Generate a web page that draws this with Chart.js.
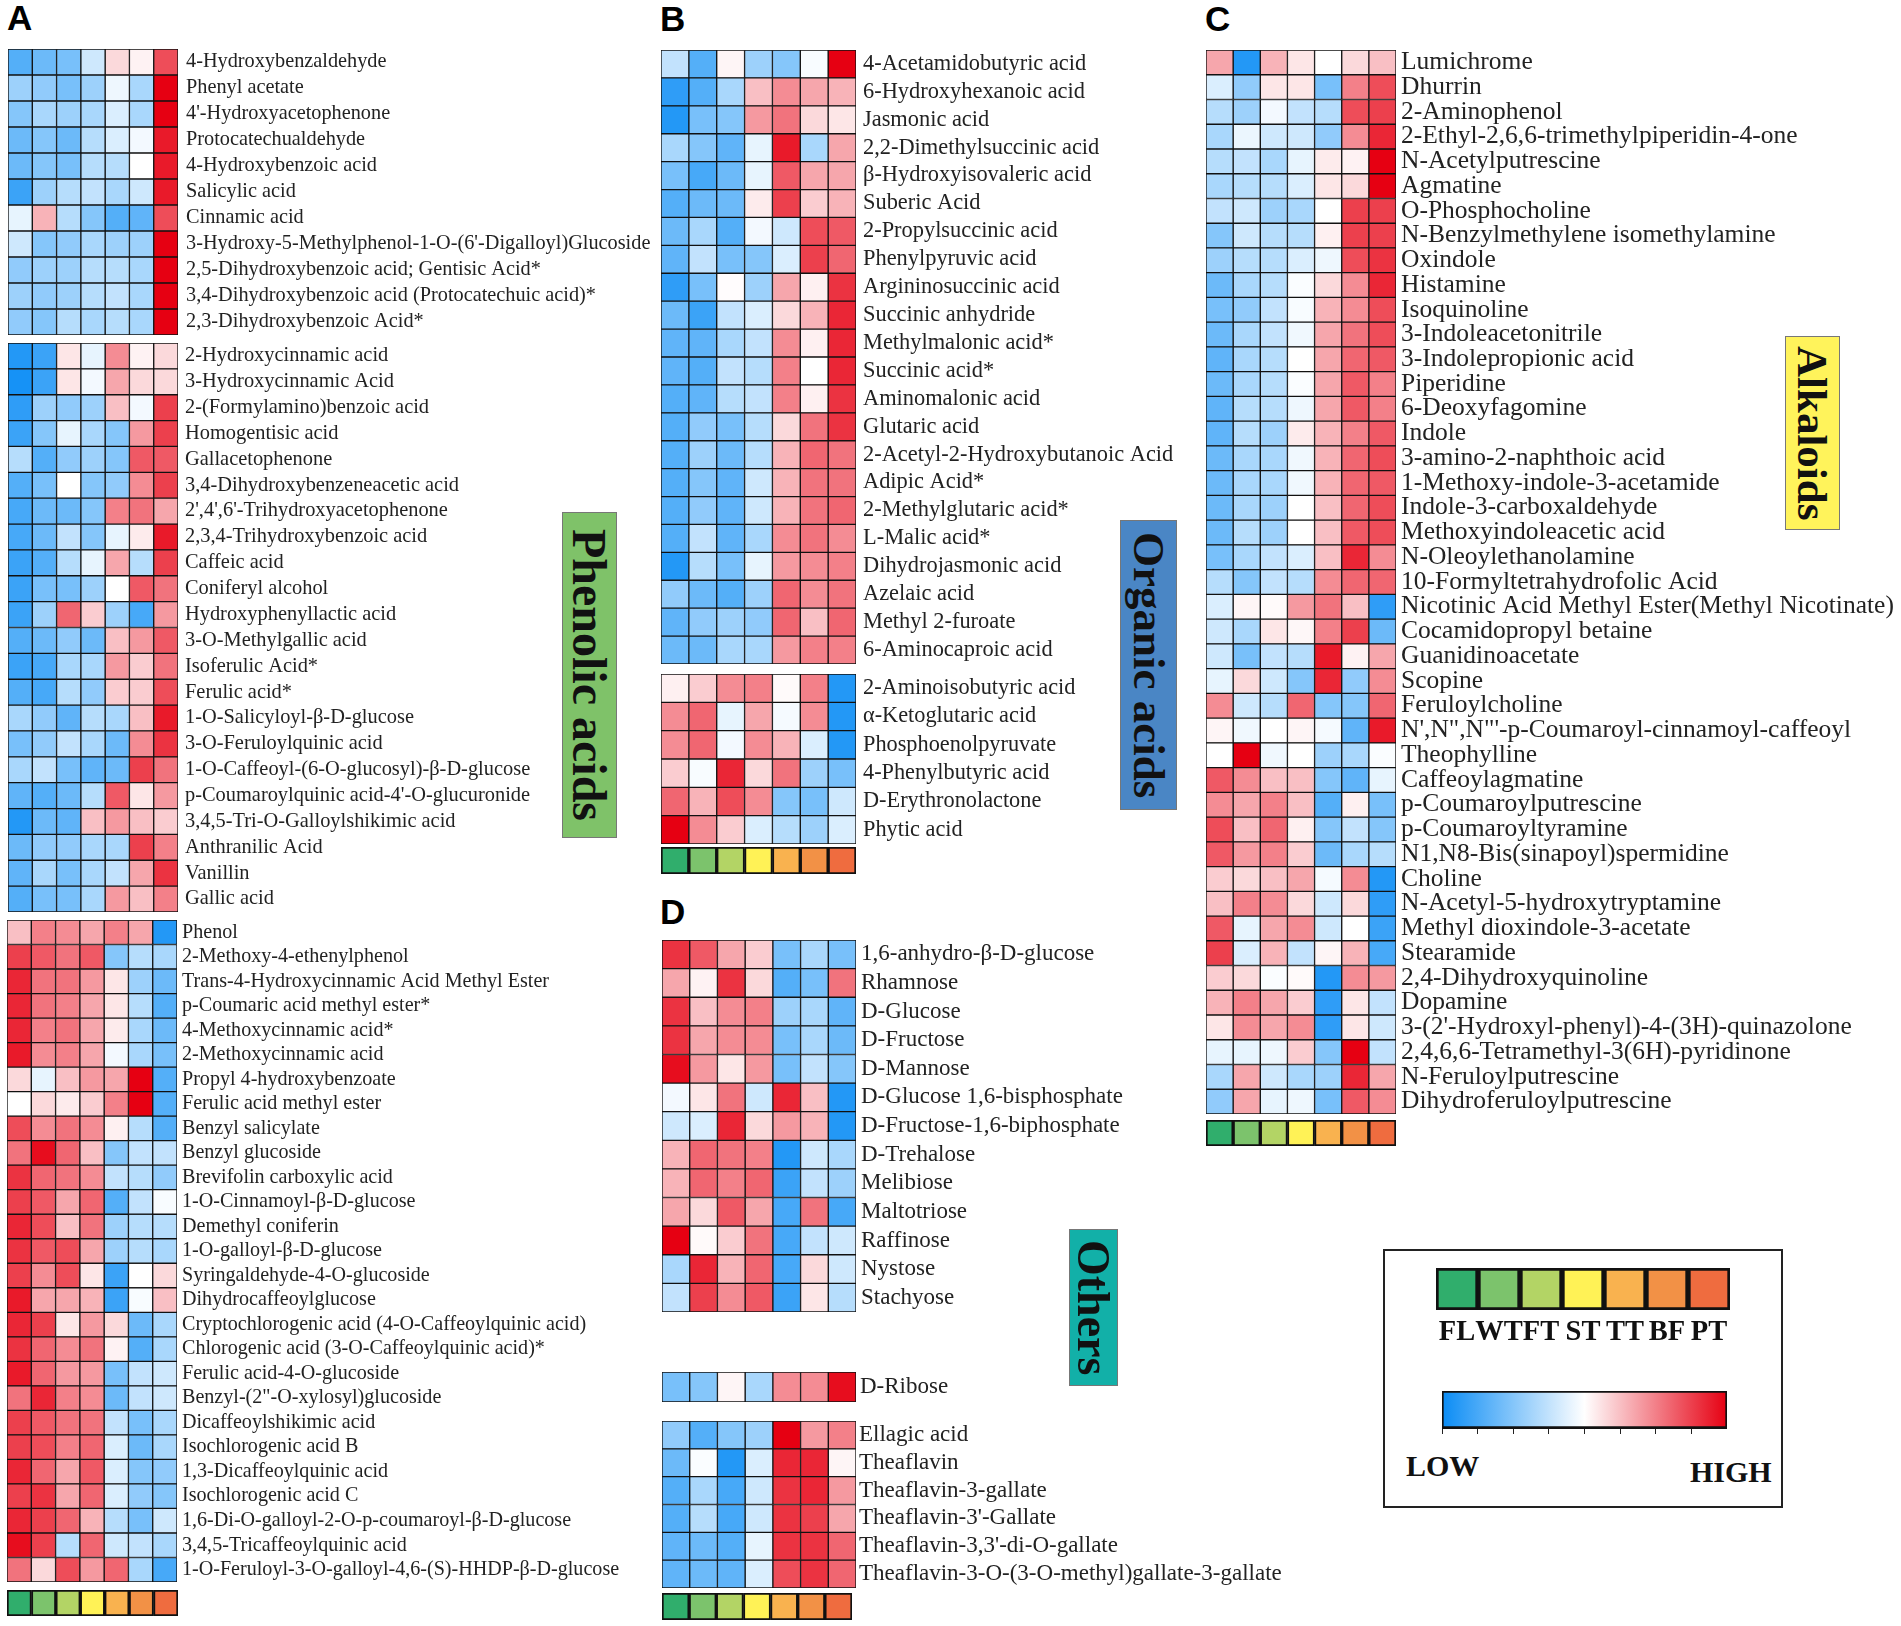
<!DOCTYPE html>
<html>
<head>
<meta charset="utf-8">
<title>Metabolite heatmaps</title>
<script src="https://cdn.jsdelivr.net/npm/chart.js@4"></script>
<style>
  body { margin: 0; background: #fff; }
  #page { position: relative; width: 1901px; height: 1626px; overflow: hidden; }
  canvas, .tag, .letter, .frame, .end { position: absolute; }
  .letter { font: bold 35px "Liberation Sans"; line-height: 35px; color: #000; }
  .tag { writing-mode: vertical-rl; display: flex; align-items: center; justify-content: center;
         font-family: "Liberation Serif"; font-weight: bold; color: #111; box-sizing: border-box; border: 1px solid #777; }
  .frame { border: 2px solid #222; box-sizing: border-box; }
  .end { font: bold 30px "Liberation Serif"; line-height: 30px; color: #111; }
</style>
</head>
<body>
<div id="page"></div>
<script>
// stages, in column order
const stages = ['FL', 'WT', 'FT', 'ST', 'TT', 'BF', 'PT'];
const stageColors = ['#30AE6C', '#7CC36C', '#B3D465', '#FFF256', '#F9B24F', '#F29146', '#EF6C3F'];

// values: -10 = LOW (blue), 0 = white, 10 = HIGH (red)
const a1Rows = ['4-Hydroxybenzaldehyde', 'Phenyl acetate', "4'-Hydroxyacetophenone", 'Protocatechualdehyde', '4-Hydroxybenzoic acid', 'Salicylic acid', 'Cinnamic acid', "3-Hydroxy-5-Methylphenol-1-O-(6'-Digalloyl)Glucoside", '2,5-Dihydroxybenzoic acid; Gentisic Acid*', '3,4-Dihydroxybenzoic acid (Protocatechuic acid)*', '2,3-Dihydroxybenzoic Acid*'];
const a1Values = [
  [-7, -6, -5.5, -2, 1.5, 0.5, 7],
  [-4, -4.5, -5.5, -4, -0.7, -3.5, 10],
  [-5, -3.5, -4, -3.5, -1.5, -3.5, 10],
  [-6, -5, -6, -3, -1.5, -0.5, 9],
  [-6, -5, -5.5, -3, -3, 0, 9],
  [-8, -4, -3, -2.5, -3.5, -2, 9],
  [-1, 3, -3, -5, -7, -6.5, 7],
  [-2, -5, -4.5, -3.5, -4, -4, 10],
  [-4.5, -4, -4, -3, -3, -3.5, 10],
  [-4, -4.5, -4, -3, -2.5, -3.5, 10],
  [-4.5, -5, -3, -3.5, -3, -3.5, 10]
];

const a2Rows = ['2-Hydroxycinnamic acid', '3-Hydroxycinnamic Acid', '2-(Formylamino)benzoic acid', 'Homogentisic acid', 'Gallacetophenone', '3,4-Dihydroxybenzeneacetic acid', "2',4',6'-Trihydroxyacetophenone", '2,3,4-Trihydroxybenzoic acid', 'Caffeic acid', 'Coniferyl alcohol', 'Hydroxyphenyllactic acid', '3-O-Methylgallic acid', 'Isoferulic Acid*', 'Ferulic acid*', '1-O-Salicyloyl-β-D-glucose', '3-O-Feruloylquinic acid', '1-O-Caffeoyl-(6-O-glucosyl)-β-D-glucose', "p-Coumaroylquinic acid-4'-O-glucuronide", '3,4,5-Tri-O-Galloylshikimic acid', 'Anthranilic Acid', 'Vanillin', 'Gallic acid'];
const a2Values = [
  [-9, -8, 1, -1, 4.5, 0.5, 1.5],
  [-9.5, -8, 1, -0.5, 3.5, 1.5, 1.5],
  [-8.5, -4, -4.5, -4, 2.5, -0.5, 7.5],
  [-8, -5, -1, -3.5, -5, 4, 7.5],
  [-3, -7, -4.5, -4, -5, 6.5, 6.5],
  [-7, -5.5, 0, -5, -4.5, 4.5, 7.5],
  [-7.5, -6, -6, -5, 5, 5.5, 3.5],
  [-7.5, -6, -2.5, -5, -1, 0.8, 9],
  [-8, -7, -3, -1, 3.5, -3, 7.5],
  [-8, -5.5, -5.5, -4, 0, 6.5, 5.5],
  [-8, -4, 6, 2, -4, -7.5, 4],
  [-7, -6, -4.5, -6, 2.5, 4, 6.5],
  [-8, -7.5, -3.5, -3.5, 4, 2, 5.5],
  [-7, -7.5, -3, -4.5, 2, 2, 7],
  [-3.5, -4.5, -6.5, -3, -3.5, 2.5, 9],
  [-5.5, -4.5, -2.5, -3.5, -6, 4.5, 8],
  [-3.5, -2.5, -5.5, -6.5, -6, 7.5, 5.5],
  [-6.5, -7, -6, -3, 6.5, 1, 4],
  [-9, -6, -6.5, 2.5, 4, 2.5, 2],
  [-6, -4.5, -4.5, -3.5, -3.5, 7.5, 5],
  [-6.5, -3.5, -5.5, -3.5, -2.5, 3.5, 8],
  [-7, -5.5, -5.5, -3.5, 4, 2.5, 5]
];

const a3Rows = ['Phenol', '2-Methoxy-4-ethenylphenol', 'Trans-4-Hydroxycinnamic Acid Methyl Ester', 'p-Coumaric acid methyl ester*', '4-Methoxycinnamic acid*', '2-Methoxycinnamic acid', 'Propyl 4-hydroxybenzoate', 'Ferulic acid methyl ester', 'Benzyl salicylate', 'Benzyl glucoside', 'Brevifolin carboxylic acid', '1-O-Cinnamoyl-β-D-glucose', 'Demethyl coniferin', '1-O-galloyl-β-D-glucose', 'Syringaldehyde-4-O-glucoside', 'Dihydrocaffeoylglucose', 'Cryptochlorogenic acid (4-O-Caffeoylquinic acid)', 'Chlorogenic acid (3-O-Caffeoylquinic acid)*', 'Ferulic acid-4-O-glucoside', 'Benzyl-(2"-O-xylosyl)glucoside', 'Dicaffeoylshikimic acid', 'Isochlorogenic acid B', '1,3-Dicaffeoylquinic acid', 'Isochlorogenic acid C', '1,6-Di-O-galloyl-2-O-p-coumaroyl-β-D-glucose', '3,4,5-Tricaffeoylquinic acid', '1-O-Feruloyl-3-O-galloyl-4,6-(S)-HHDP-β-D-glucose'];
const a3Values = [
  [2.5, 5, 4.5, 3.5, 5, 3.5, -9],
  [7.5, 6.5, 5.5, 6.5, -5, -3, -3.5],
  [8.5, 5.5, 5.5, 4, 1, -4, -6],
  [8.5, 5.5, 5, 3.5, 1, -3, -7],
  [8.5, 5, 5.5, 3.5, 0.8, -3.5, -6],
  [9, 4.5, 5, 3.5, -0.5, -3.5, -5.5],
  [1.5, -1, 2.5, 4, 3.5, 10, -7],
  [0, 1.5, 0.8, 2, 5, 10, -7],
  [7, 4.5, 5.5, 4.5, 0.6, -3, -7],
  [5.5, 9.5, 6, 2.5, -5, -2.5, -2.5],
  [8, 6, 5.5, 4.5, -2.5, -3, -4.5],
  [7.5, 6.5, 3.5, 6, -7, -2.5, -0.3],
  [8.5, 7, 2.5, 5.5, -4, -3, -3],
  [8, 6.5, 7, 3.5, -4, -3, -3.5],
  [7.5, 4.5, 7, 1, -8, 0, 1.5],
  [9, 3.5, 3.5, 3, -8, -0.3, 2.5],
  [8.5, 7.5, 1, 4, 1.5, -6, -3.5],
  [8, 6, 4.5, 5.5, 0.5, -7, -3.5],
  [9, 6, 4, 4, -5.5, -2.5, -2],
  [5.5, 8.5, 5, 4.5, -6, -2.5, -2],
  [7.5, 6.5, 5.5, 5.5, -2.5, -5.5, -3.5],
  [7.5, 7, 5, 6, -1.5, -6, -3.5],
  [8.5, 6, 3.5, 6.5, -1.5, -5, -4.5],
  [7.5, 8, 3.5, 6, -1.5, -4.5, -5],
  [8.5, 7.5, 6, 3, -3, -5.5, -2],
  [9.5, 7.5, -3, 6, -2, -2.5, -3.5],
  [5.5, 1.5, 7, 4, 6, -3.5, -7.5]
];

const b1Rows = ['4-Acetamidobutyric acid', '6-Hydroxyhexanoic acid', 'Jasmonic acid', '2,2-Dimethylsuccinic acid', 'β-Hydroxyisovaleric acid', 'Suberic Acid', '2-Propylsuccinic acid', 'Phenylpyruvic acid', 'Argininosuccinic acid', 'Succinic anhydride', 'Methylmalonic acid*', 'Succinic acid*', 'Aminomalonic acid', 'Glutaric acid', '2-Acetyl-2-Hydroxybutanoic Acid', 'Adipic Acid*', '2-Methylglutaric acid*', 'L-Malic acid*', 'Dihydrojasmonic acid', 'Azelaic acid', 'Methyl 2-furoate', '6-Aminocaproic acid'];
const b1Values = [
  [-2.5, -7, 0.4, -4, -5, -0.3, 10],
  [-8.5, -7, -3.5, 2.5, 4.5, 3.5, 3],
  [-9, -5.5, -5, 4, 5.5, 1.5, 1],
  [-3.5, -5, -6.5, -1, 9, -3.5, 3.5],
  [-5.5, -7.5, -6, -1, 6.5, 3.5, 3.5],
  [-7, -6, -6, 0.8, 7.5, 2, 3],
  [-6, -3.5, -7, -0.5, -2, 7, 6.5],
  [-6.5, -2.5, -5.5, -5, -1.5, 7.5, 6],
  [-8.5, -5.5, 0.1, -4, 3.5, 0.6, 8],
  [-6, -8, -2.5, -1.5, 1.5, 3, 8.5],
  [-6.5, -6.5, -3.5, -2.5, 4.5, 0.6, 8.5],
  [-6.5, -7, -2.5, -3, 5, 0, 8.5],
  [-7, -6.5, -3, -2.5, 5, 0.6, 8],
  [-7, -4.5, -5.5, -3, 1.5, 5.5, 8],
  [-7, -4, -6, -3, 3, 6, 5.5],
  [-7, -5, -6.5, -2, 3, 5.5, 5.5],
  [-7, -4.5, -6.5, -2, 3, 5.5, 6],
  [-7, -2.5, -6.5, -3.5, 4.5, 5.5, 4.5],
  [-9, -3, -5.5, -1, 4, 4.5, 5],
  [-4.5, -6, -7, -4, 6, 4.5, 5.5],
  [-6.5, -4.5, -4, -4.5, 6, 2.5, 6],
  [-6, -6, -3.5, -3.5, 4, 5, 5]
];

const b2Rows = ['2-Aminoisobutyric acid', 'α-Ketoglutaric acid', 'Phosphoenolpyruvate', '4-Phenylbutyric acid', 'D-Erythronolactone', 'Phytic acid'];
const b2Values = [
  [0.6, 2, 4.5, 5, 0.2, 5, -9],
  [4.5, 6, -1, 3.5, -0.4, 4.5, -9],
  [4.5, 6, -0.5, 4.5, 3, -1.5, -9],
  [2, -0.3, 8.5, 1.5, 5.5, -4, -5.5],
  [6, 3, 7, 4.5, -5, -5.5, -2],
  [10, 4.5, 2, -1.5, -3, -4, -1.5]
];

const d1Rows = ['1,6-anhydro-β-D-glucose', 'Rhamnose', 'D-Glucose', 'D-Fructose', 'D-Mannose', 'D-Glucose 1,6-bisphosphate', 'D-Fructose-1,6-biphosphate', 'D-Trehalose', 'Melibiose', 'Maltotriose', 'Raffinose', 'Nystose', 'Stachyose'];
const d1Values = [
  [8, 6.5, 3.5, 2, -5.5, -3.5, -5.5],
  [3.5, 0.5, 8, 1.5, -7, -5.5, 5.5],
  [8, 2.5, 4.5, 5, -4, -3.5, -6.5],
  [8, 3.5, 4.5, 4.5, -5.5, -3.5, -6],
  [9.5, 4, 1, 4, -5.5, -2.5, -5],
  [-0.5, 1, 5.5, -2, 8.5, 2.5, -9],
  [-2, -1.5, 8.5, 1.5, 4, 3, -9],
  [3, 6, 5.5, 5, -9, -2, -3.5],
  [3, 6, 5, 6, -8, -2.5, -4],
  [3.5, 1.5, 6.5, 3.5, -7.5, 5.5, -7.5],
  [10, 0.2, 2, 5.5, -7.5, -2.5, -2],
  [-3.5, 8.5, 3, 6, -7.5, 1.5, -2],
  [-2.5, 7.5, 4.5, 6.5, -8, 1, -3]
];

const d2Rows = ['D-Ribose'];
const d2Values = [[-5.5, -5, 0.4, -3.5, 4.5, 4.5, 9.5]];

const d3Rows = ['Ellagic acid', 'Theaflavin', 'Theaflavin-3-gallate', "Theaflavin-3'-Gallate", "Theaflavin-3,3'-di-O-gallate", 'Theaflavin-3-O-(3-O-methyl)gallate-3-gallate'];
const d3Values = [
  [-4.5, -7, -5, -4, 10, 4, 5],
  [-6, -0.2, -9, -1.5, 8.5, 8.5, 0.4],
  [-7, -3.5, -7.5, -2, 8, 8.5, 4],
  [-7, -3, -7.5, -2, 8, 7.5, 3.5],
  [-6.5, -6, -7, -1, 8, 8, 6],
  [-6.5, -6, -6.5, -1.5, 7, 8, 6]
];

const cRows = ['Lumichrome', 'Dhurrin', '2-Aminophenol', '2-Ethyl-2,6,6-trimethylpiperidin-4-one', 'N-Acetylputrescine', 'Agmatine', 'O-Phosphocholine', 'N-Benzylmethylene isomethylamine', 'Oxindole', 'Histamine', 'Isoquinoline', '3-Indoleacetonitrile', '3-Indolepropionic acid', 'Piperidine', '6-Deoxyfagomine', 'Indole', '3-amino-2-naphthoic acid', '1-Methoxy-indole-3-acetamide', 'Indole-3-carboxaldehyde', 'Methoxyindoleacetic acid', 'N-Oleoylethanolamine', '10-Formyltetrahydrofolic Acid', 'Nicotinic Acid Methyl Ester(Methyl Nicotinate)', 'Cocamidopropyl betaine', 'Guanidinoacetate', 'Scopine', 'Feruloylcholine', `N',N",N"'-p-Coumaroyl-cinnamoyl-caffeoyl`, 'Theophylline', 'Caffeoylagmatine', 'p-Coumaroylputrescine', 'p-Coumaroyltyramine', 'N1,N8-Bis(sinapoyl)spermidine', 'Choline', 'N-Acetyl-5-hydroxytryptamine', 'Methyl dioxindole-3-acetate', 'Stearamide', '2,4-Dihydroxyquinoline', 'Dopamine', "3-(2'-Hydroxyl-phenyl)-4-(3H)-quinazolone", '2,4,6,6-Tetramethyl-3(6H)-pyridinone', 'N-Feruloylputrescine', 'Dihydroferuloylputrescine'];
const cValues = [
  [3.5, -9, 3, 1, 0, 1.5, 2.5],
  [-1.5, -4.5, 1, 1, -5.5, 5, 7],
  [-3, -4, -0.5, -2.5, -3, 7, 7.5],
  [-3.5, -0.8, -2, -2, -4.5, 4.5, 8.5],
  [-3, -2.5, -3.5, -1, 0.8, 0.5, 10],
  [-3.5, -3, -3, -1.5, 1, 1.5, 10],
  [-2.5, -2, -4, -3.5, 0, 7.5, 7.5],
  [-5, -2, -3, -3, 0.6, 7.5, 7.5],
  [-4, -3, -3, -1.5, -0.7, 7, 8],
  [-6, -3.5, -3, -0.2, 1.5, 4.5, 8.5],
  [-5.5, -4.5, -2.5, -0.3, 3, 4.5, 7],
  [-6, -3.5, -2.5, -0.6, 3.5, 5.5, 7],
  [-6.5, -3.5, -3, 0, 3.5, 6, 6.5],
  [-6, -3.5, -3, -0.2, 3.5, 6.5, 5],
  [-6.5, -3, -3, -0.7, 3.5, 6.5, 5],
  [-6.5, -3, -4, 0.8, 3, 5, 6.5],
  [-6, -3.5, -3.5, -0.6, 3, 6, 7],
  [-6, -3.5, -3.5, -0.6, 3, 6, 6.5],
  [-6, -3.5, -4, 0, 2.5, 6, 7],
  [-6, -3, -4, 0, 2.5, 6.5, 7],
  [-5.5, -3.5, -2.5, -1.5, 2.5, 8.5, 4.5],
  [-3, -5, -2.5, -3, 4.5, 6, 6],
  [-1.5, 0.4, 0.2, 4, 5.5, 2.5, -8.5],
  [-2, -3.5, 1, 0.3, 5, 7.5, -6],
  [-2, -5.5, -2.5, -3, 9, 0.5, 3.5],
  [-1, 1.5, -2, -5, 8.5, -4.5, 4.5],
  [4.5, -2, -3, 6, -5, -5, 6],
  [0.4, -0.6, 0, 0.4, -0.4, -6.5, 9],
  [0, 10, -0.6, 0, -4, -3.5, -0.2],
  [6.5, 4.5, 2.5, 2.5, -5, -6.5, -1],
  [4.5, 3.5, 5, 2.5, -7, 0.6, -5.5],
  [7, 2.5, 6, 0.6, -5, -2.5, -5],
  [6.5, 4, 5, 2, -6, -3.5, -3],
  [2, 1.5, 2.5, 3.5, -0.4, 4.5, -9],
  [2.5, 5, 4.5, 1.5, -2, 1.5, -8.5],
  [6.5, -1, 3.5, 4.5, -2, 0, -8],
  [7.5, -1.5, 3, -2.5, 0.4, 3, -7.5],
  [2, 1.5, -0.2, 0.2, -9, 4.5, 4],
  [3, 5, 3.5, 2, -8.5, 1, -2.5],
  [1, 4.5, 3.5, 4.5, -8.5, 1, -2],
  [-1, -1, -0.7, 2, -5, 10, -2.5],
  [-3.5, 3.5, -2, -3.5, -4, 8.5, 3.5],
  [-4.5, 3.5, -1, -0.7, -5.5, 6.5, 4.5]
];

const page = document.getElementById('page');
const serif = 'Liberation Serif';

function heatColor(v) {
  const t = Math.abs(v) / 10;
  const end = v < 0 ? [10, 140, 245] : [230, 0, 18];
  const c = end.map(e => Math.round(255 + (e - 255) * t));
  return `rgb(${c[0]},${c[1]},${c[2]})`;
}

function addCanvas(x, y, w, h) {
  const cv = document.createElement('canvas');
  cv.style.left = x + 'px';
  cv.style.top = y + 'px';
  cv.width = w;
  cv.height = h;
  cv.style.width = w + 'px';
  cv.style.height = h + 'px';
  page.appendChild(cv);
  return cv;
}

// one stacked horizontal bar per metabolite, one segment per stage
function heatmap(x0, x1, y0, y1, labelW, fontSize, pad, rows, values) {
  const cv = addCanvas(x0, y0, x1 - x0 + labelW, y1 - y0);
  new Chart(cv, {
    type: 'bar',
    data: {
      labels: rows,
      datasets: stages.map((s, i) => ({
        label: s,
        data: rows.map(() => 1),
        backgroundColor: values.map(r => heatColor(r[i])),
        borderColor: '#111',
        borderWidth: 1,
        borderSkipped: false,
        barPercentage: 1,
        categoryPercentage: 1
      }))
    },
    options: {
      indexAxis: 'y',
      responsive: false,
      animation: false,
      layout: { padding: 0 },
      plugins: { legend: { display: false }, tooltip: { enabled: false } },
      scales: {
        x: { stacked: true, min: 0, max: stages.length, display: false },
        y: {
          stacked: true,
          position: 'right',
          grid: { display: false, drawTicks: false },
          border: { display: false },
          // keep the plot area at the full height of the block
          afterFit: s => { s.width = labelW; s.paddingTop = 0; s.paddingBottom = 0; },
          ticks: {
            autoSkip: false,
            crossAlign: 'near',
            padding: pad,
            color: '#222',
            font: { family: serif, size: fontSize }
          }
        }
      }
    }
  });
}

// stage colour strip under a heatmap (and in the legend, with labels)
function strip(x0, x1, y0, y1, border, showLabels) {
  const cv = addCanvas(x0, y0, x1 - x0, y1 - y0);
  new Chart(cv, {
    type: 'bar',
    data: {
      labels: stages,
      datasets: [{
        data: stages.map(() => 1),
        backgroundColor: stageColors,
        borderColor: '#111',
        borderWidth: border,
        borderSkipped: false,
        barPercentage: 1,
        categoryPercentage: 1
      }]
    },
    options: {
      responsive: false,
      animation: false,
      layout: { padding: 0 },
      plugins: { legend: { display: false }, tooltip: { enabled: false } },
      scales: {
        y: { min: 0, max: 1, display: false },
        x: {
          display: showLabels,
          grid: { display: false, drawTicks: false },
          border: { display: false },
          afterFit: s => {
            if (!showLabels) return;
            s.height = 35;
            s.paddingLeft = 0;
            s.paddingRight = 0;
          },
          ticks: {
            autoSkip: false, maxRotation: 0, padding: 6, color: '#111',
            font: { family: serif, size: 28.5, weight: 'bold' }
          }
        }
      }
    }
  });
}

function colorBar(x0, x1, y0, y1) {
  const cv = addCanvas(x0, y0, x1 - x0, y1 - y0);
  new Chart(cv, {
    type: 'bar',
    data: {
      labels: ['scale'],
      datasets: [{
        data: [[-10, 10]],
        backgroundColor: ctx => {
          const area = ctx.chart.chartArea;
          if (!area) return '#fff';
          const g = ctx.chart.ctx.createLinearGradient(area.left, 0, area.right, 0);
          g.addColorStop(0, heatColor(-10));
          g.addColorStop(0.5, heatColor(0));
          g.addColorStop(1, heatColor(10));
          return g;
        },
        borderColor: '#111',
        borderWidth: 2,
        borderSkipped: false,
        barPercentage: 1,
        categoryPercentage: 1
      }]
    },
    options: {
      indexAxis: 'y',
      responsive: false,
      animation: false,
      layout: { padding: 0 },
      plugins: { legend: { display: false }, tooltip: { enabled: false } },
      scales: {
        y: { display: false },
        x: {
          min: -10, max: 10,
          grid: { drawOnChartArea: false, tickLength: 6, color: '#222' },
          border: { color: '#111', width: 2 },
          ticks: { stepSize: 2.5, display: false }
        }
      }
    }
  });
}

function addText(cls, text, x, y, extra) {
  const d = document.createElement('div');
  d.className = cls;
  d.textContent = text;
  d.style.left = x + 'px';
  d.style.top = y + 'px';
  Object.assign(d.style, extra || {});
  page.appendChild(d);
}

heatmap(8, 178, 49, 335, 490, 20.3, 8, a1Rows, a1Values);
heatmap(8, 178, 343, 912, 440, 20.4, 7, a2Rows, a2Values);
heatmap(7, 177, 920, 1582, 470, 20.1, 5, a3Rows, a3Values);
strip(7, 178, 1590, 1616, 2, false);

heatmap(661, 856, 50, 664, 340, 22.4, 7, b1Rows, b1Values);
heatmap(661, 856, 674, 844, 300, 22.3, 7, b2Rows, b2Values);
strip(661, 856, 847, 874, 2, false);

heatmap(662, 856, 940, 1312, 330, 23, 5, d1Rows, d1Values);
heatmap(662, 856, 1372, 1402, 200, 23, 4, d2Rows, d2Values);
heatmap(662, 856, 1421, 1588, 440, 23, 3, d3Rows, d3Values);
strip(662, 852, 1593, 1620, 2, false);

heatmap(1206, 1396, 50, 1114, 505, 25.5, 5, cRows, cValues);
strip(1206, 1396, 1120, 1146, 2, false);

addText('letter', 'A', 7, 0);
addText('letter', 'B', 660, 1);
addText('letter', 'C', 1205, 1);
addText('letter', 'D', 660, 894);

addText('tag', 'Phenolic acids', 562, 512, { width: '55px', height: '326px', background: '#7FC269', fontSize: '48px' });
addText('tag', 'Organic acids', 1120, 520, { width: '57px', height: '290px', background: '#4A86C5', fontSize: '45px' });
addText('tag', 'Others', 1069, 1229, { width: '49px', height: '157px', background: '#12B0A8', fontSize: '46px' });
addText('tag', 'Alkaloids', 1785, 336, { width: '55px', height: '194px', background: '#FFF35B', fontSize: '43px' });

addText('frame', '', 1383, 1249, { width: '400px', height: '259px' });
strip(1436, 1730, 1268, 1345, 3, true);
colorBar(1442, 1727, 1391, 1434);
addText('end', 'LOW', 1406, 1451);
addText('end', 'HIGH', 1690, 1457);
</script>
</body>
</html>
